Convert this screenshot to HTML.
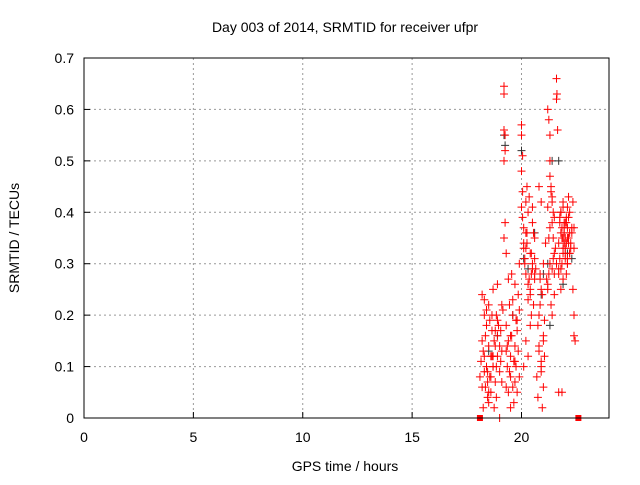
<!DOCTYPE html>
<html><head><meta charset="utf-8"><style>
body{margin:0;background:#fff;font-family:"Liberation Sans",sans-serif}
svg text{font-family:"Liberation Sans",sans-serif;font-size:14px;fill:#000}
</style></head><body>
<svg width="640" height="480" id="c">
<text x="345" y="32" text-anchor="middle">Day 003 of 2014, SRMTID for receiver ufpr</text>
<text x="345" y="471" text-anchor="middle">GPS time / hours</text>
<text transform="translate(19,238) rotate(-90)" text-anchor="middle">SRMTID / TECUs</text>
<g id="grid"></g>
<g id="ax"></g>
<g id="blk"></g>
<g id="red"></g>
<rect x="84" y="58" width="525" height="360" fill="none" stroke="#000"/>
</svg>
<script>
const xTicks=[0,5,10,15,20];
const yTicks=[0,0.1,0.2,0.3,0.4,0.5,0.6,0.7];
const redX=[18.1,18.2,18.2,18.25,18.3,18.3,18.35,18.4,18.4,18.45,18.5,18.5,18.55,18.6,18.6,18.65,18.7,18.7,18.75,18.8,18.8,18.85,18.9,18.9,19.0,19.0,19.05,19.1,19.1,
19.2,19.2,19.2,19.25,19.25,19.2,19.25,19.2,19.3,19.3,19.35,19.3,19.4,19.4,19.45,19.5,19.5,19.55,19.6,19.6,19.65,19.7,19.7,19.75,19.8,19.8,19.85,19.9,19.9,
20.0,20.0,20.05,20.0,20.05,20.0,20.1,20.1,20.15,20.2,20.2,20.25,20.3,20.3,20.35,20.4,20.4,20.45,20.5,20.5,20.55,20.6,20.6,20.2,20.3,20.1,20.4,20.5,
20.7,20.75,20.8,20.8,20.85,20.9,20.9,20.95,21.0,21.0,21.05,20.8,20.9,21.0,20.75,20.85,21.1,
21.2,21.25,21.3,21.3,21.35,21.4,21.4,21.45,21.3,21.2,21.35,21.4,21.5,21.5,21.45,21.25,21.3,21.4,
21.6,21.62,21.6,21.65,21.6,21.7,21.7,21.75,21.8,21.8,21.85,21.9,21.9,21.95,22.0,22.0,22.05,22.1,22.1,22.15,22.2,22.2,21.8,21.9,22.0,22.1,21.7,21.85,22.05,22.15,22.2,21.95,
22.35,22.4,22.4,22.4,22.45,22.35,22.4,
18.3,18.5,18.7,18.9,19.1,19.3,19.5,19.7,19.9,20.2,20.6,20.9,21.2,21.5,21.7,21.9,22.1,22.3,
18.15,18.25,18.35,18.45,18.55,18.65,18.75,18.85,18.95,19.05,18.2,18.4,18.6,18.8,19.0,18.3,18.5,18.7,18.9,18.45,18.65,18.85,
19.15,19.35,19.45,19.55,19.65,19.75,19.85,19.4,19.6,19.8,19.5,19.7,
20.05,20.15,20.25,20.35,20.45,20.55,20.65,20.2,20.4,20.6,20.3,20.5,20.1,20.25,20.45,
20.8,20.9,21.0,20.85,20.95,21.05,21.15,21.2,21.3,21.4,21.5,21.35,21.45,21.25,21.55,
21.75,21.85,21.95,22.05,22.15,22.25,21.8,21.9,22.0,22.1,22.2,22.3,21.75,21.85,21.95,22.05,22.15,22.25,22.0,22.1,21.9,21.8];
const redY=[0.08,0.24,0.15,0.02,0.12,0.2,0.06,0.1,0.18,0.04,0.14,0.22,0.08,0.12,0.05,0.17,0.1,0.25,0.02,0.14,0.07,0.2,0.12,0.26,0.0,0.09,0.17,0.13,0.22,
0.645,0.63,0.56,0.55,0.52,0.5,0.38,0.35,0.32,0.18,0.1,0.06,0.15,0.05,0.22,0.08,0.12,0.28,0.06,0.2,0.03,0.14,0.26,0.1,0.05,0.17,0.24,0.08,0.3,
0.57,0.55,0.51,0.48,0.44,0.41,0.37,0.34,0.3,0.33,0.28,0.36,0.4,0.26,0.43,0.32,0.24,0.2,0.38,0.29,0.22,0.35,0.27,0.15,0.12,0.1,0.18,0.3,
0.08,0.04,0.2,0.14,0.28,0.1,0.25,0.02,0.3,0.16,0.12,0.45,0.42,0.06,0.18,0.22,0.34,
0.6,0.58,0.55,0.5,0.45,0.42,0.38,0.35,0.3,0.26,0.22,0.2,0.32,0.28,0.4,0.35,0.47,0.43,
0.66,0.63,0.62,0.56,0.3,0.28,0.34,0.38,0.4,0.36,0.3,0.42,0.33,0.38,0.35,0.32,0.39,0.37,0.3,0.34,0.36,0.4,0.25,0.27,0.33,0.31,0.05,0.05,0.28,0.43,0.32,0.36,
0.42,0.37,0.2,0.16,0.15,0.25,0.33,
0.09,0.05,0.1,0.19,0.07,0.13,0.16,0.11,0.21,0.36,0.28,0.11,0.25,0.39,0.29,0.35,0.41,0.37,
0.11,0.13,0.16,0.09,0.19,0.12,0.15,0.04,0.18,0.11,0.06,0.21,0.08,0.17,0.14,0.23,0.03,0.12,0.16,0.07,0.2,0.1,
0.21,0.14,0.09,0.16,0.11,0.19,0.13,0.27,0.23,0.19,0.02,0.07,
0.39,0.31,0.34,0.27,0.32,0.36,0.29,0.42,0.25,0.31,0.23,0.41,0.33,0.45,0.28,
0.13,0.09,0.15,0.27,0.24,0.19,0.27,0.41,0.37,0.29,0.24,0.44,0.31,0.28,0.33,
0.39,0.37,0.34,0.38,0.35,0.33,0.29,0.41,0.38,0.35,0.32,0.36,0.31,0.35,0.37,0.34,0.39,0.34,0.31,0.3,0.32,0.4];
const blkX=[19.2,19.25,20.0,20.1,20.3,20.6,21.0,21.2,21.3,21.4,21.7,21.9,22.1,22.3,18.5,18.9,19.6,20.9];
const blkY=[0.55,0.53,0.52,0.31,0.29,0.36,0.28,0.3,0.18,0.5,0.5,0.26,0.32,0.31,0.13,0.16,0.2,0.24];
const sqX=[18.1,22.6];
const sqY=[0,0];
const X=v=>84+v*525/24, Y=v=>418-v*360/0.7;
const NS="http://www.w3.org/2000/svg";
function mk(p,t,a){const e=document.createElementNS(NS,t);for(const k in a)e.setAttribute(k,a[k]);p.appendChild(e);return e;}
const grid=document.getElementById('grid'),ax=document.getElementById('ax');
xTicks.forEach(t=>{
 if(t>0){const l=mk(grid,'line',{x1:X(t),x2:X(t),y1:58,y2:418,stroke:'#999','stroke-dasharray':'2,3'});
 
 }
 const tl=mk(ax,'line',{x1:X(t),x2:X(t),y1:418,y2:412,stroke:'#000'});
 
 
 const tx=mk(ax,'text',{x:X(t),y:442,'text-anchor':'middle'});tx.textContent=t;
 
 
});
yTicks.forEach(t=>{
 if(t>0&&t<0.7){const l=mk(grid,'line',{x1:84,x2:609,y1:Y(t),y2:Y(t),stroke:'#999','stroke-dasharray':'2,3'});
 
 }
 const tl=mk(ax,'line',{x1:84,x2:90,y1:Y(t),y2:Y(t),stroke:'#000'});
 
 
 const tx=mk(ax,'text',{x:74,y:Y(t)+5,'text-anchor':'end'});tx.textContent=t;
 
 
});
function plus(g,x,y,c){const p=mk(g,'path',{d:`M${X(x)-4},${Y(y)}h8M${X(x)},${Y(y)-4}v8`,stroke:c,'stroke-width':1});return p;}
const blk=document.getElementById('blk'),red=document.getElementById('red');
blkX.forEach((x,i)=>{const p=plus(blk,x,blkY[i],'#333');
 
 });
redX.forEach((x,i)=>{const p=plus(red,x,redY[i],'#f00');
 
 });
sqX.forEach((x,i)=>{const r=mk(red,'rect',{x:X(x)-3,y:Y(sqY[i])-3,width:6,height:6,fill:'#f00'});
 
 });
</script>
</body></html>
